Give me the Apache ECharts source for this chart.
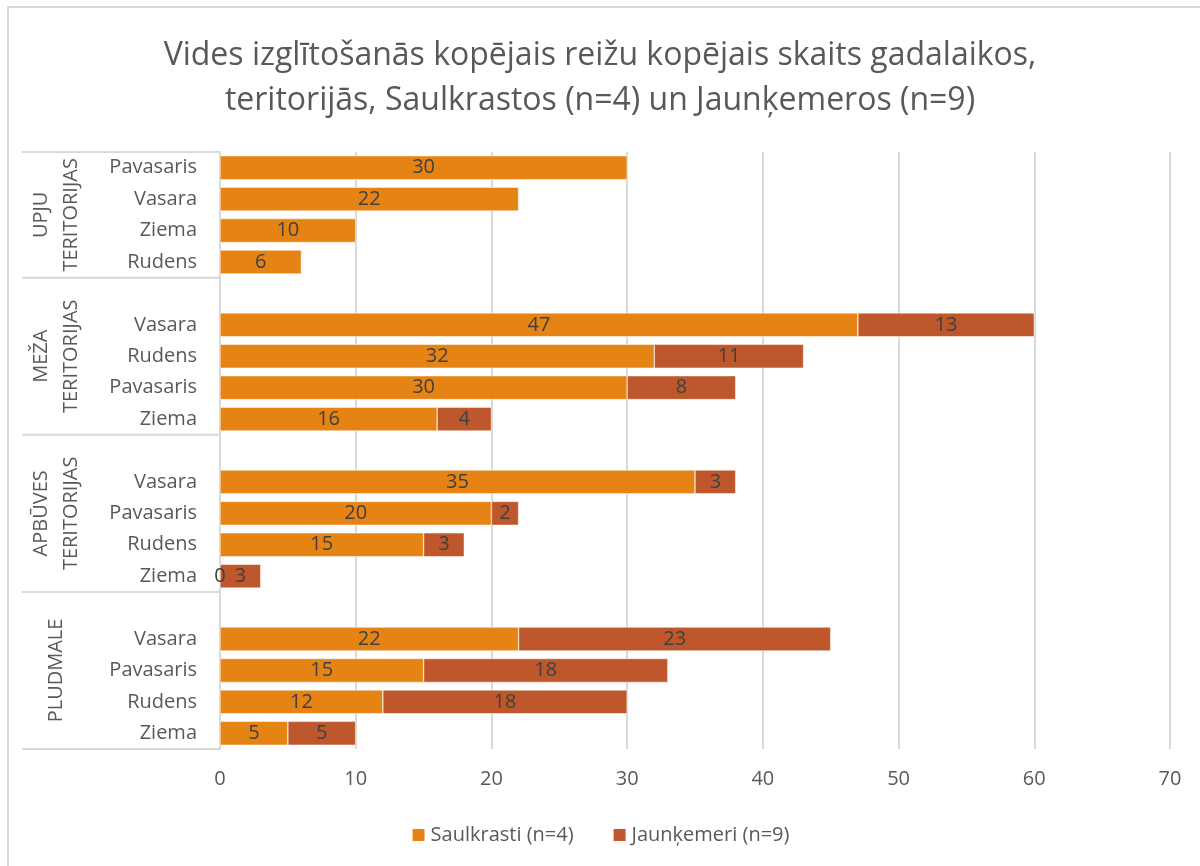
<!DOCTYPE html>
<html>
<head>
<meta charset="utf-8">
<script src="https://cdn.jsdelivr.net/npm/echarts@6/dist/echarts.min.js"></script>
<style>
html,body{margin:0;padding:0;background:#fff;}
#chart{width:1200px;height:866px;}
</style>
</head>
<body>
<div id="chart"></div>
<script>
// ---- data ----
const groupNames = ['UPJU\nTERITORIJAS', 'MEŽA\nTERITORIJAS', 'APBŪVES\nTERITORIJAS', 'PLUDMALE'];
const upjuSeasons = ['Pavasaris', 'Vasara', 'Ziema', 'Rudens'];
const upjuSaulkrasti = [30, 22, 10, 6];
const upjuJaunkemeri = [null, null, null, null];
const mezaSeasons = ['Vasara', 'Rudens', 'Pavasaris', 'Ziema'];
const mezaSaulkrasti = [47, 32, 30, 16];
const mezaJaunkemeri = [13, 11, 8, 4];
const apbuvesSeasons = ['Vasara', 'Pavasaris', 'Rudens', 'Ziema'];
const apbuvesSaulkrasti = [35, 20, 15, 0];
const apbuvesJaunkemeri = [3, 2, 3, 3];
const pludmaleSeasons = ['Vasara', 'Pavasaris', 'Rudens', 'Ziema'];
const pludmaleSaulkrasti = [22, 15, 12, 5];
const pludmaleJaunkemeri = [23, 18, 18, 5];
const seriesNames = ['Saulkrasti (n=4)', 'Jaunķemeri (n=9)'];
const xTicks = [0, 10, 20, 30, 40, 50, 60, 70];

// ---- build flat axis (blank spacer slot before each group except first) ----
const groupsSeasons = [upjuSeasons, mezaSeasons, apbuvesSeasons, pludmaleSeasons];
const groupsS = [upjuSaulkrasti, mezaSaulkrasti, apbuvesSaulkrasti, pludmaleSaulkrasti];
const groupsJ = [upjuJaunkemeri, mezaJaunkemeri, apbuvesJaunkemeri, pludmaleJaunkemeri];
const cats = [], dataS = [], dataJ = [], groupSpans = [];
groupsSeasons.forEach((seasons, g) => {
  const start = cats.length;
  if (g > 0) { cats.push(''); dataS.push(null); dataJ.push(null); }
  seasons.forEach((s, i) => { cats.push(s); dataS.push(groupsS[g][i]); dataJ.push(groupsJ[g][i]); });
  groupSpans.push([start, cats.length]);
});

const textColor = '#595959';
const fontFam = '"Open Sans", sans-serif';
const chart = echarts.init(document.getElementById('chart'));
const labelStyle = { show: true, position: 'inside', color: '#404040', fontSize: 20, fontFamily: fontFam,
  formatter: p => (p.value === null || p.value === undefined) ? '' : p.value };

chart.setOption({
  animation: false,
  backgroundColor: '#fff',
  title: {
    text: 'Vides izglītošanās kopējais reižu kopējais skaits gadalaikos,\nteritorijās, Saulkrastos (n=4) un Jaunķemeros (n=9)',
    left: 'center', top: 28,
    textStyle: { color: textColor, fontSize: 32, fontWeight: 'normal', fontFamily: fontFam, lineHeight: 45 }
  },
  legend: {
    bottom: 16, left: 'center', itemWidth: 14, itemHeight: 14, itemGap: 38,
    icon: 'rect',
    textStyle: { color: textColor, fontSize: 20, fontFamily: fontFam }
  },
  grid: { left: 220, right: 30, top: 152, bottom: 117, containLabel: false },
  xAxis: {
    type: 'value', min: xTicks[0], max: xTicks[xTicks.length - 1], interval: 10,
    axisLine: { show: false }, axisTick: { show: false },
    splitLine: { lineStyle: { color: '#d9d9d9', width: 2 } },
    axisLabel: { color: textColor, fontSize: 20, fontFamily: fontFam, margin: 20 }
  },
  yAxis: {
    type: 'category', inverse: true, data: cats,
    axisLine: { lineStyle: { color: '#d9d9d9', width: 2 } },
    axisTick: { show: false },
    axisLabel: { color: textColor, fontSize: 20, fontFamily: fontFam, margin: 23, interval: 0 }
  },
  series: [
    { name: seriesNames[0], type: 'bar', stack: 'a', data: dataS, barCategoryGap: '24%',
      itemStyle: { color: '#E58314', borderColor: '#fff', borderWidth: 0.5 }, label: labelStyle },
    { name: seriesNames[1], type: 'bar', stack: 'a', data: dataJ, barCategoryGap: '24%',
      itemStyle: { color: '#BE582C', borderColor: '#fff', borderWidth: 0.5 }, label: labelStyle }
  ]
});

// group separators and group labels derived from the category scale
const c0 = chart.convertToPixel({ yAxisIndex: 0 }, 0);
const c1 = chart.convertToPixel({ yAxisIndex: 0 }, 1);
const step = c1 - c0;
const boundary = i => c0 - step / 2 + i * step;
const axisX = chart.convertToPixel({ xAxisIndex: 0 }, 0);
const graphics = [
  { type: 'rect', shape: { x: 8, y: 7, width: 1200, height: 880 }, style: { fill: 'none', stroke: '#d9d9d9', lineWidth: 2 }, silent: true }
];
const bounds = new Set();
groupSpans.forEach(([a, b]) => { bounds.add(a); bounds.add(b); });
bounds.forEach(i => {
  graphics.push({ type: 'line', shape: { x1: 22, y1: boundary(i), x2: axisX, y2: boundary(i) },
    style: { stroke: '#d9d9d9', lineWidth: 2 }, silent: true });
});
groupSpans.forEach(([a, b], g) => {
  const cy = (boundary(a) + boundary(b)) / 2;
  graphics.push({ type: 'text', x: 56, y: cy, rotation: Math.PI / 2,
    style: { text: groupNames[g], fill: textColor, fontSize: 20, fontFamily: fontFam,
      align: 'center', verticalAlign: 'middle', lineHeight: 30 }, silent: true });
});
chart.setOption({ graphic: graphics });
</script>
</body>
</html>
